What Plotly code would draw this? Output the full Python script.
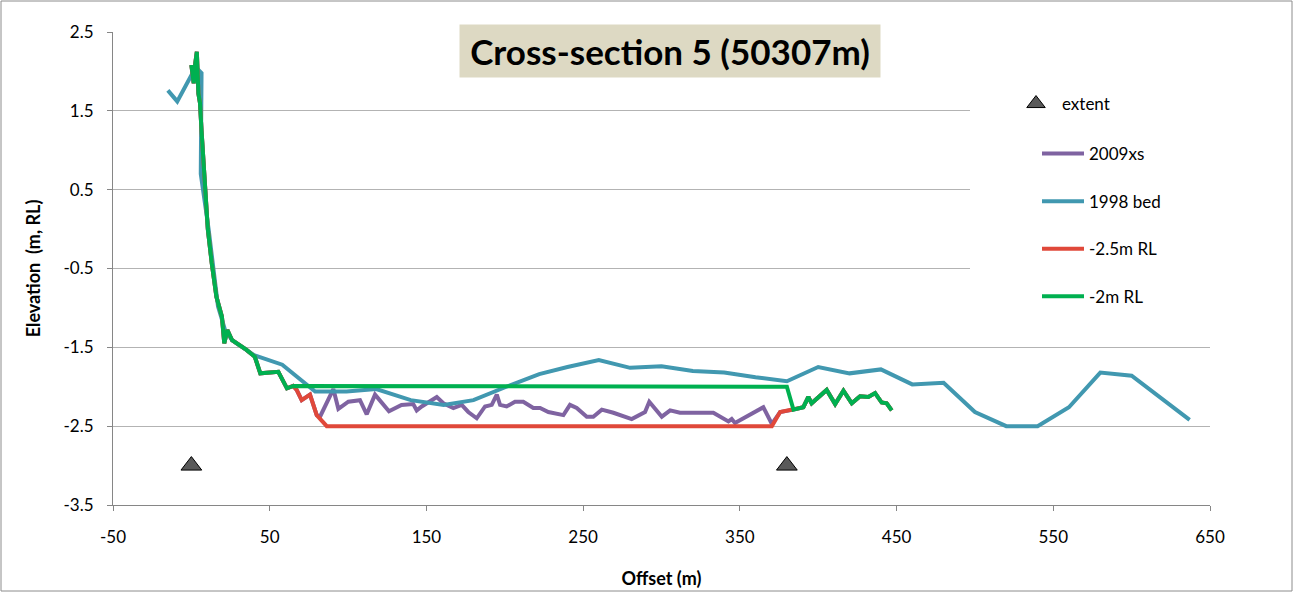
import plotly.graph_objects as go

# extent markers
extent_x = [0, 380]
extent_y = [-3, -3]

# bank shared by 2009 survey and the dredge scenarios
bank_x = [0, 1.5, 2.5, 3.5, 4.5, 5.5, 6.5, 8.5, 10.5, 13, 16, 19.5, 21, 23, 26, 35, 40.5, 44, 55.5, 61, 65]
bank_y = [2.08, 1.85, 2.1, 2.25, 1.72, 1.6, 1.25, 0.62, 0.0, -0.43, -0.86, -1.11, -1.45, -1.28, -1.41,
          -1.53, -1.62, -1.83, -1.81, -2.02, -1.99]

# 2009 channel bed
chan_x = [67.2, 70.4, 75.7, 80, 82.1, 90.6, 93.8, 100.2, 107.6, 111.9, 117.2, 126.1, 134.1, 141.6, 143.8,
          147, 156.6, 160.8, 167.2, 172.5, 176.7, 182.1, 187.4, 191.7, 194.9, 197, 201.2, 206.5, 211.8,
          218.2, 222.5, 227.8, 237.4, 241.6, 245.9, 252.3, 256.5, 261.9, 269.3, 281, 289.5, 292.2, 300.2,
          305.5, 311.8, 333.1, 342.7, 344.8, 346.9, 365, 370.4, 375.7, 384.2]
chan_y = [-2.04, -2.17, -2.1, -2.36, -2.38, -2.03, -2.28, -2.19, -2.17, -2.35, -2.1, -2.31, -2.23, -2.22,
          -2.3, -2.25, -2.13, -2.21, -2.27, -2.23, -2.32, -2.4, -2.25, -2.23, -2.1, -2.23, -2.25, -2.19,
          -2.19, -2.27, -2.27, -2.32, -2.36, -2.23, -2.27, -2.38, -2.38, -2.29, -2.33, -2.41, -2.32, -2.19,
          -2.38, -2.3, -2.33, -2.33, -2.44, -2.41, -2.46, -2.26, -2.47, -2.32, -2.29]

# right bank zigzag
right_x = [390.5, 393.7, 395.8, 405.4, 410.8, 416.1, 421.4, 426.7, 432, 436.3, 440.5, 443.7, 446.9]
right_y = [-2.26, -2.13, -2.21, -2.04, -2.22, -2.05, -2.21, -2.12, -2.13, -2.08, -2.2, -2.21, -2.3]

# -2.5m RL dredge: channel part
red_x = [67.2, 70.4, 75.7, 80, 86.4, 370.4, 375.7, 384.2]
red_y = [-2.04, -2.17, -2.1, -2.36, -2.5, -2.5, -2.32, -2.29]

# -2m RL dredge: channel part
green_x = [380, 384.2]
green_y = [-2.0, -2.29]

# 1998 bed
bed98_x = [-15, -9, 0, 3, 6.5, 6, 11, 14, 17, 21.5, 26, 40, 58, 79, 99, 118, 140, 161, 180, 201, 222, 240,
           260, 280, 300, 320, 340, 360, 380, 400, 420, 440, 460, 480, 500, 520, 540, 560, 580, 600, 637]
bed98_y = [1.76, 1.62, 1.95, 2.05, 1.98, 0.7, 0.0, -0.45, -0.98, -1.28, -1.41, -1.6, -1.72, -2.06, -2.06,
           -2.03, -2.17, -2.23, -2.17, -2.0, -1.84, -1.75, -1.66, -1.76, -1.74, -1.8, -1.82, -1.88, -1.93,
           -1.75, -1.83, -1.78, -1.97, -1.95, -2.32, -2.5, -2.5, -2.26, -1.82, -1.86, -2.42]

# tick labels (plain hyphen, as in the original)
x_ticks = [-50, 50, 150, 250, 350, 450, 550, 650]
x_labels = ["-50", "50", "150", "250", "350", "450", "550", "650"]
y_ticks = [2.5, 1.5, 0.5, -0.5, -1.5, -2.5, -3.5]
y_labels = ["2.5", "1.5", "0.5", "-0.5", "-1.5", "-2.5", "-3.5"]

FONT = "Lato, Carlito, Calibri, sans-serif"
LW = 4

fig = go.Figure()
fig.add_trace(go.Scatter(
    x=extent_x, y=extent_y, mode="markers", name="extent", legend="legend2",
    marker=dict(symbol="triangle-up", size=18, color="#595959", line=dict(color="#000000", width=1)),
))
fig.add_trace(go.Scatter(
    x=bank_x + chan_x + right_x, y=bank_y + chan_y + right_y, mode="lines", name="2009xs",
    legendgroup="b", line=dict(color="#7F63A1", width=LW),
))
fig.add_trace(go.Scatter(
    x=bed98_x, y=bed98_y, mode="lines", name="1998 bed", legendgroup="c",
    line=dict(color="#4198B0", width=LW),
))
fig.add_trace(go.Scatter(
    x=bank_x + red_x + right_x, y=bank_y + red_y + right_y, mode="lines", name="-2.5m RL",
    legendgroup="d", line=dict(color="#E0483A", width=LW),
))
fig.add_trace(go.Scatter(
    x=bank_x + green_x + right_x, y=bank_y + green_y + right_y, mode="lines", name="-2m RL",
    legendgroup="e", line=dict(color="#00B050", width=LW),
))

L, R, T, B = 113, 84, 32, 88
W, H = 1294, 593
pw, ph = W - L - R, H - T - B


def px_x(p):
    return (p - L) / pw


def px_y(p):
    return (H - B - p) / ph


fig.update_layout(
    width=W, height=H,
    margin=dict(l=L, r=R, t=T, b=B, autoexpand=False),
    paper_bgcolor="white", plot_bgcolor="white",
    font=dict(family=FONT, size=17, color="#000000"),
    showlegend=True,
    legend=dict(
        x=px_x(1037), y=px_y(136), xanchor="left", yanchor="top",
        bgcolor="rgba(0,0,0,0)", font=dict(size=17), tracegroupgap=22.5, itemwidth=42,
    ),
    legend2=dict(
        x=px_x(1010), y=px_y(86), xanchor="left", yanchor="top",
        bgcolor="rgba(0,0,0,0)", font=dict(size=17), itemwidth=42,
    ),
    annotations=[dict(
        text="<b>Cross-section 5 (50307m)</b>", xref="paper", yref="paper",
        x=px_x(670), y=px_y(51), xanchor="center", yanchor="middle", showarrow=False,
        font=dict(family=FONT, size=35, color="#000000"), bgcolor="#DDD9C3",
        width=412, height=44, borderpad=4,
    )],
    shapes=[
        dict(type="rect", xref="paper", yref="paper", layer="above",
             x0=px_x(970), x1=1, y0=px_y(330), y1=px_y(48),
             fillcolor="white", line=dict(width=0)),
        dict(type="rect", xref="paper", yref="paper", layer="above",
             x0=px_x(1), x1=px_x(1292), y0=px_y(591), y1=px_y(1),
             line=dict(color="#8C8C8C", width=1)),
    ],
)
fig.update_xaxes(
    range=[-50, 650], tickvals=x_ticks, ticktext=x_labels, showgrid=False, zeroline=False,
    showline=True, linecolor="#868686", linewidth=1, ticks="outside", ticklen=5, tickcolor="#868686",
    ticklabelstandoff=12, tickfont=dict(size=17), automargin=False,
    title=dict(text="<b>Offset (m)</b>", font=dict(size=18), standoff=25),
)
fig.update_yaxes(
    range=[-3.5, 2.5], tickvals=y_ticks, ticktext=y_labels, showgrid=True, gridcolor="#B3B3B3",
    gridwidth=1, zeroline=False, showline=True, linecolor="#868686", linewidth=1, ticks="outside",
    ticklen=5, tickcolor="#868686", ticklabelstandoff=10, tickfont=dict(size=17), automargin=False,
    title=dict(text="<b>Elevation  (m, RL)</b>", font=dict(size=18), standoff=18),
)

# drop the default page margin so the figure sits at the window origin
fig.write_html("out.html", config={"displayModeBar": False},
               post_script="document.body.style.margin='0';")
